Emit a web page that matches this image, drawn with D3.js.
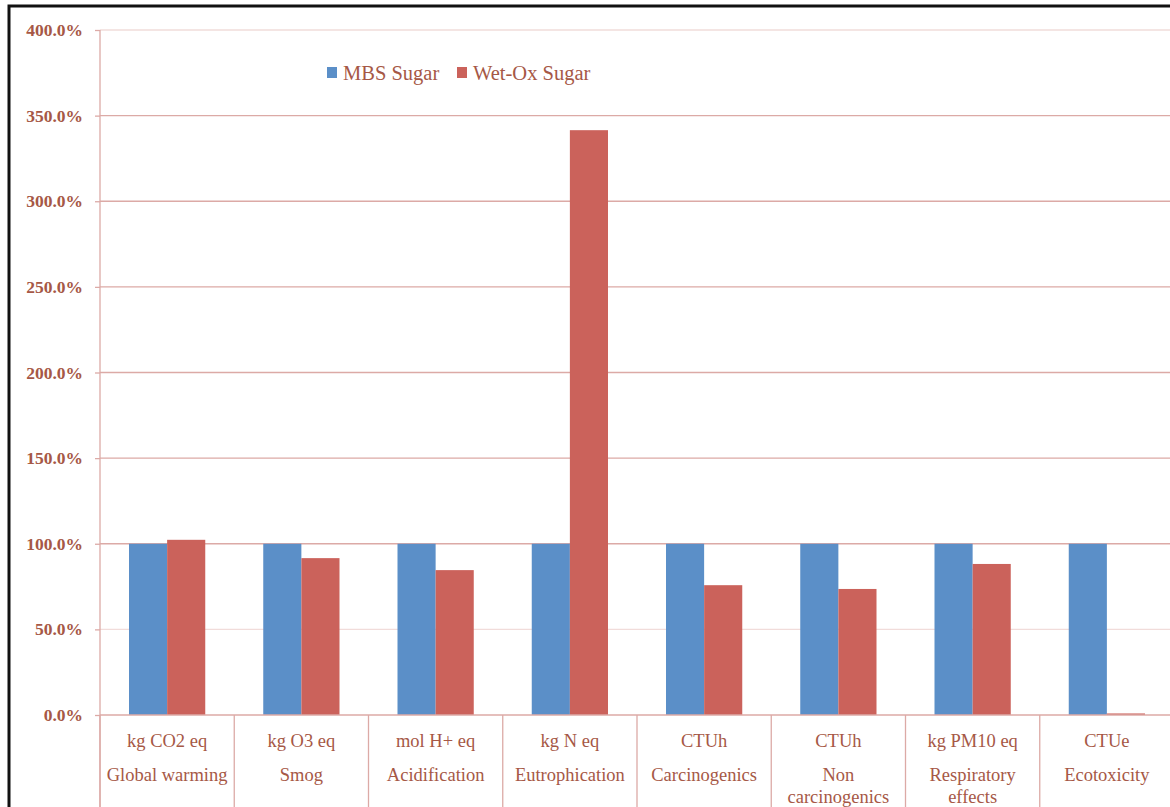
<!DOCTYPE html>
<html>
<head>
<meta charset="utf-8">
<script src="https://d3js.org/d3.v7.min.js"></script>
<style>
  html, body { margin: 0; padding: 0; background: #fff; }
  svg { display: block; }
  text { font-family: "Liberation Serif", "DejaVu Serif", serif; }
</style>
</head>
<body>
<svg id="chart" width="1170" height="807"></svg>
<script>
// Impact categories: unit line and name line(s)
const units = ["kg CO2 eq", "kg O3 eq", "mol H+ eq", "kg N eq", "CTUh", "CTUh", "kg PM10 eq", "CTUe"];
const names = [["Global warming"], ["Smog"], ["Acidification"], ["Eutrophication"],
               ["Carcinogenics"], ["Non", "carcinogenics"], ["Respiratory", "effects"], ["Ecotoxicity"]];
const seriesNames = ["MBS Sugar", "Wet-Ox Sugar"];
// Relative impact, percent of the MBS Sugar baseline
const mbsSugar   = [100, 100, 100, 100, 100, 100, 100, 100];
const wetOxSugar = [102.3, 91.6, 84.6, 341.5, 75.8, 73.6, 88.2, 0.9];
const yTicks = [0, 50, 100, 150, 200, 250, 300, 350, 400];

const colors = ["#5b8fc8", "#cb625b"];
const textColor = "#a65846";
const gridColor = "#dcaaa6";
const gridFaint = "#f1dcda";

const svg = d3.select("#chart");
const W = 1170, H = 807;

// Outer frame
svg.append("rect").attr("x", 9).attr("y", 6).attr("width", W + 20).attr("height", H + 20)
  .attr("fill", "#fff").attr("stroke", "#111").attr("stroke-width", 3);

const plotLeft = 100, plotRight = 1174, plotTop = 30, plotBottom = 715;

const x = d3.scaleBand().domain(d3.range(units.length)).range([plotLeft, plotRight]).paddingInner(0).paddingOuter(0);
const y = d3.scaleLinear().domain([0, 400]).range([plotBottom, plotTop]);

// Horizontal gridlines
svg.append("g").selectAll("line").data(yTicks.filter(d => d > 0)).join("line")
  .attr("x1", plotLeft).attr("x2", plotRight)
  .attr("y1", d => y(d)).attr("y2", d => y(d))
  .attr("stroke", d => (d === 50 || d === 400) ? gridFaint : gridColor)
  .attr("stroke-width", 1.3);

// Bars
const inner = 29;  // gap from category edge to bar group
const sub = d3.scaleBand().domain([0, 1]).range([0, x.bandwidth() - 2 * inner]);
const series = [mbsSugar, wetOxSugar];
series.forEach((vals, s) => {
  svg.append("g").selectAll("rect").data(vals).join("rect")
    .attr("x", (d, i) => x(i) + inner + sub(s))
    .attr("width", sub.bandwidth())
    .attr("y", d => y(d))
    .attr("height", d => y(0) - y(d))
    .attr("fill", colors[s]);
});

// Y axis
const yAxis = d3.axisLeft(y).tickValues(yTicks).tickSize(5).tickPadding(12)
  .tickFormat(d => d3.format(".1f")(d) + "%");
const ya = svg.append("g").attr("transform", `translate(${plotLeft},0)`).call(yAxis);
ya.select(".domain").attr("stroke", gridColor).attr("stroke-width", 1.3)
  .attr("d", `M0,${plotTop}V${H}`);
ya.selectAll(".tick line").attr("stroke", gridColor).attr("stroke-width", 1.3);
ya.selectAll(".tick text").attr("fill", textColor).attr("font-size", 17.5).attr("font-weight", "bold")
  .style("font-family", '"Liberation Serif", serif');

// Baseline
svg.append("line").attr("x1", plotLeft).attr("x2", plotRight).attr("y1", y(0)).attr("y2", y(0))
  .attr("stroke", gridColor).attr("stroke-width", 1.5);

// Category dividers
const edges = d3.range(units.length + 1).map(i => i < units.length ? x(i) : plotRight);
svg.append("g").selectAll("line").data(edges).join("line")
  .attr("x1", d => d).attr("x2", d => d).attr("y1", y(0)).attr("y2", H)
  .attr("stroke", gridColor).attr("stroke-width", 1.3);

// Category labels
const labels = svg.append("g").attr("fill", textColor).attr("font-size", 18.5).attr("text-anchor", "middle");
units.forEach((u, i) => {
  const cx = x(i) + x.bandwidth() / 2;
  labels.append("text").attr("x", cx).attr("y", 747).text(u);
  names[i].forEach((n, j) => {
    labels.append("text").attr("x", cx).attr("y", 781 + j * 22).text(n);
  });
});

// Legend
const legend = svg.append("g").attr("transform", "translate(327,73)");
const lx = [0, 130];
seriesNames.forEach((n, i) => {
  legend.append("rect").attr("x", lx[i]).attr("y", -6).attr("width", 10).attr("height", 11).attr("fill", colors[i]);
  legend.append("text").attr("x", lx[i] + 16).attr("y", 7).attr("fill", textColor)
    .attr("font-size", 20.5).text(n);
});
</script>
</body>
</html>
